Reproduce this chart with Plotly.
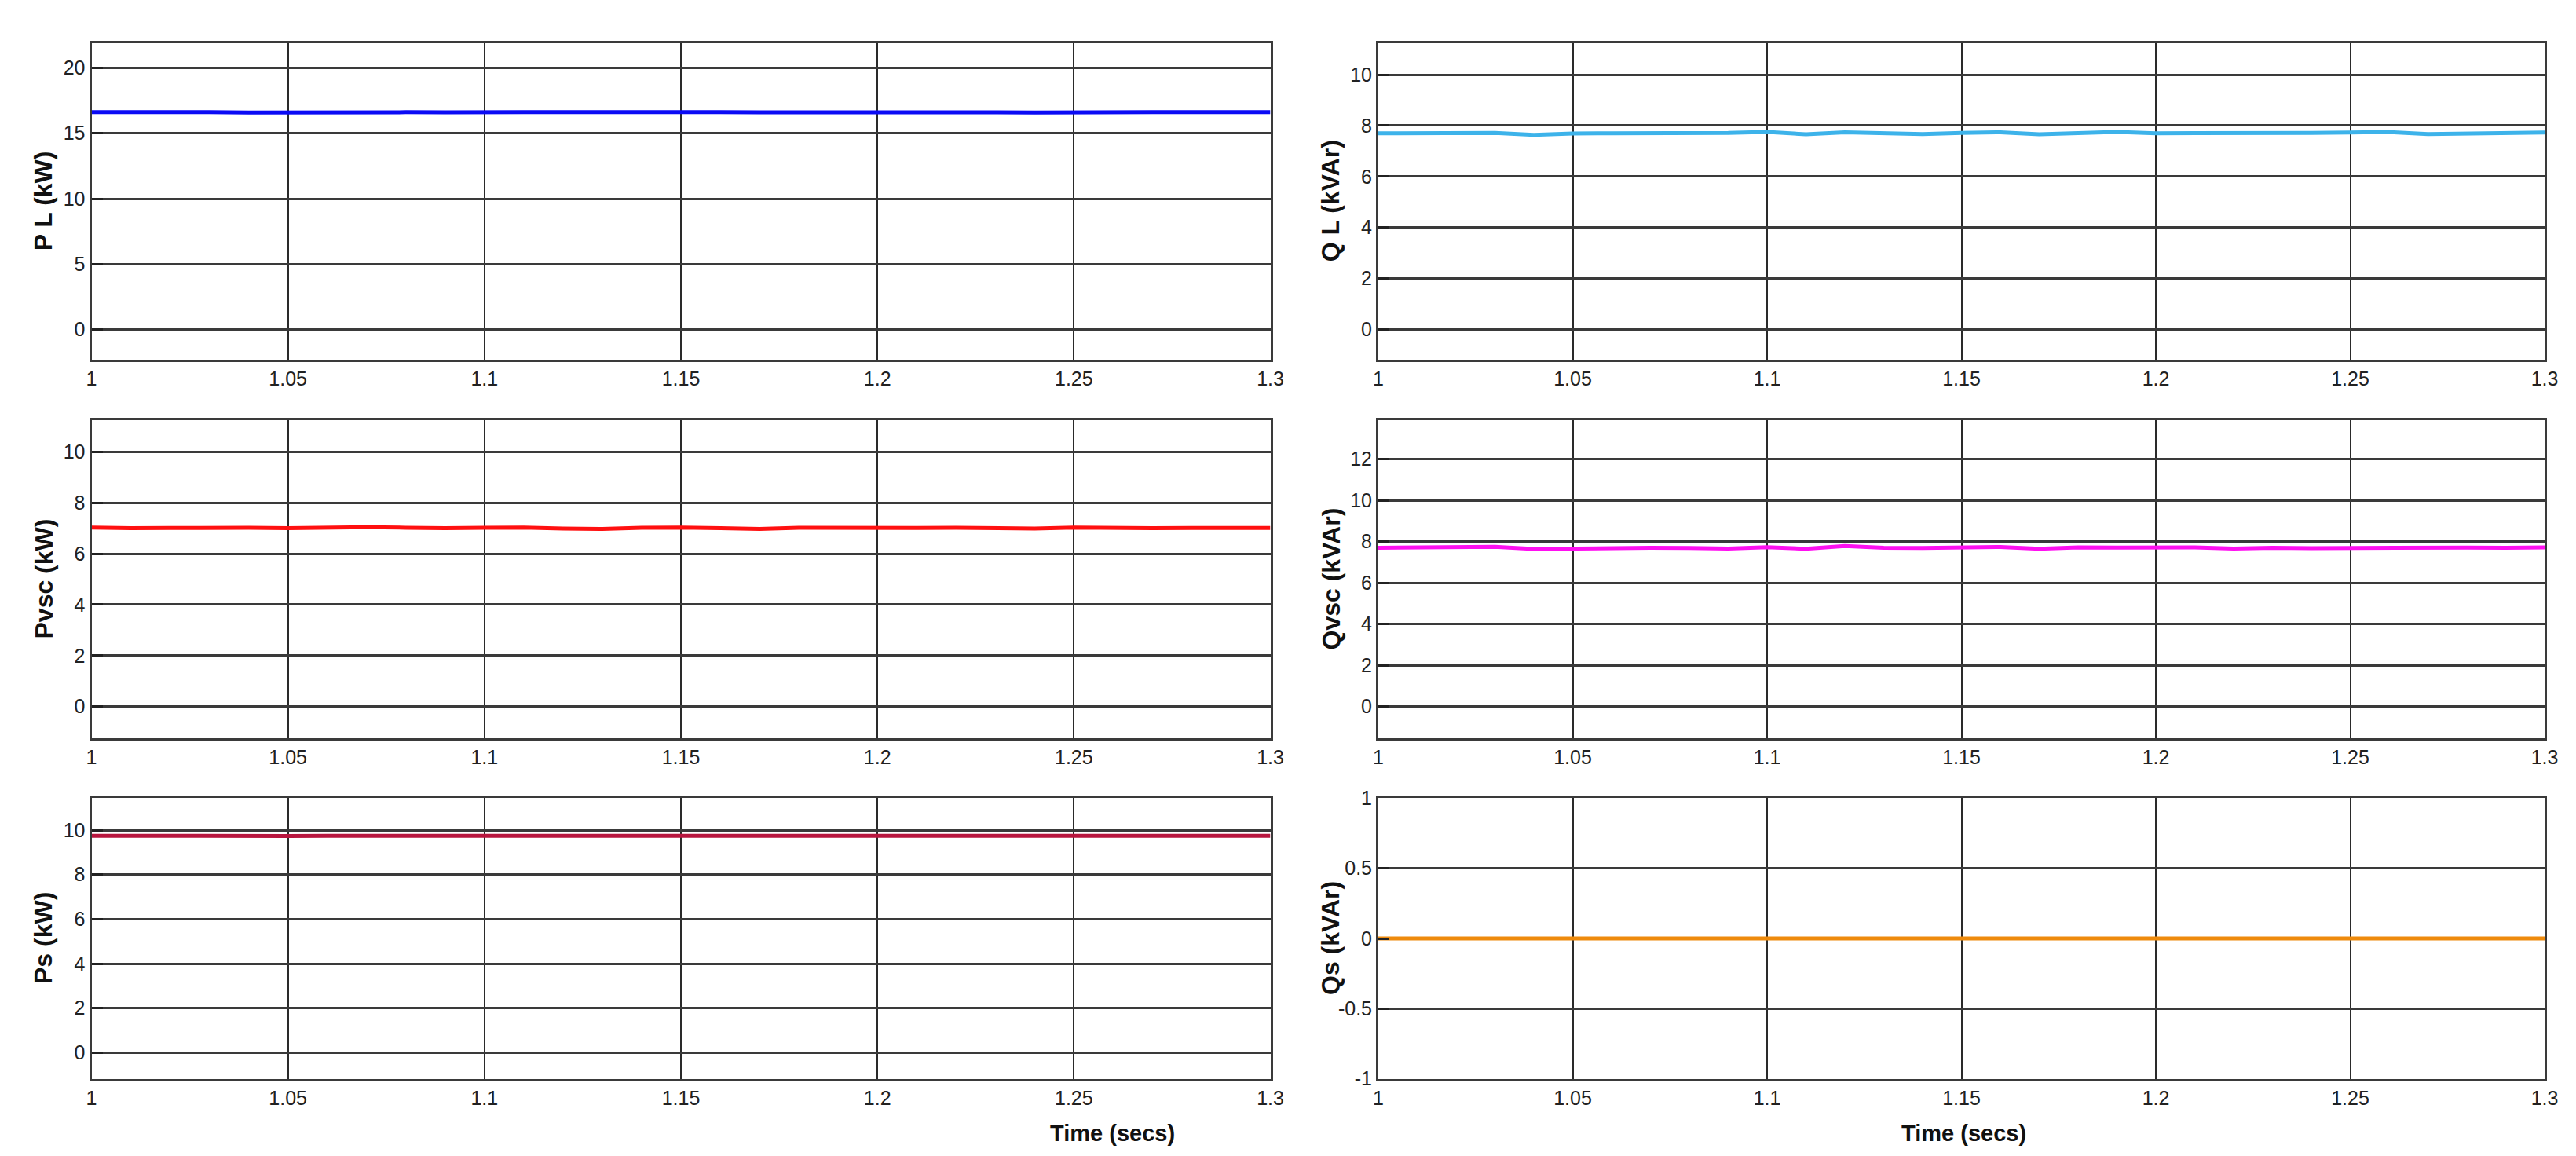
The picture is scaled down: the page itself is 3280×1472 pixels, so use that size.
"""
Six-panel power flow plot: load, VSC and source active/reactive power.
"""

import plotly.graph_objects as go
from plotly.subplots import make_subplots

# time axis (secs)
time_s = [1.00, 1.01, 1.02, 1.03, 1.04, 1.05, 1.06, 1.07, 1.08, 1.09, 1.10,
          1.11, 1.12, 1.13, 1.14, 1.15, 1.16, 1.17, 1.18, 1.19, 1.20,
          1.21, 1.22, 1.23, 1.24, 1.25, 1.26, 1.27, 1.28, 1.29, 1.30]
x_ticks = [1.0, 1.05, 1.1, 1.15, 1.2, 1.25, 1.3]
x_labels = ["1", "1.05", "1.1", "1.15", "1.2", "1.25", "1.3"]

# load active power P L (kW)
p_load = [16.62, 16.63, 16.61, 16.62, 16.58, 16.60, 16.62, 16.63, 16.61, 16.60, 16.64,
          16.62, 16.61, 16.63, 16.62, 16.64, 16.62, 16.60, 16.61, 16.63, 16.62,
          16.64, 16.61, 16.60, 16.59, 16.62, 16.63, 16.61, 16.62, 16.63, 16.62]
# load reactive power Q L (kVAr)
q_load = [7.70, 7.71, 7.72, 7.71, 7.64, 7.69, 7.70, 7.70, 7.69, 7.71, 7.75,
          7.66, 7.74, 7.70, 7.67, 7.71, 7.74, 7.66, 7.71, 7.75, 7.70,
          7.70, 7.69, 7.70, 7.71, 7.73, 7.75, 7.67, 7.70, 7.72, 7.73]
# VSC active power (kW)
p_vsc = [7.03, 7.00, 7.01, 7.03, 7.02, 7.00, 7.03, 7.04, 7.02, 7.00, 7.02,
         7.03, 6.99, 6.97, 7.02, 7.03, 7.00, 6.97, 7.02, 7.01, 7.00,
         7.01, 7.02, 7.00, 6.99, 7.03, 7.01, 7.00, 7.01, 7.02, 7.01]
# VSC reactive power (kVAr)
q_vsc = [7.70, 7.72, 7.73, 7.75, 7.64, 7.66, 7.70, 7.70, 7.69, 7.66, 7.73,
         7.65, 7.78, 7.70, 7.69, 7.71, 7.74, 7.65, 7.72, 7.71, 7.70,
         7.72, 7.66, 7.70, 7.68, 7.69, 7.73, 7.72, 7.71, 7.70, 7.72]
# source active power (kW)
p_src = [9.75, 9.74, 9.75, 9.76, 9.75, 9.74, 9.75, 9.75, 9.76, 9.75, 9.74,
         9.75, 9.75, 9.74, 9.75, 9.76, 9.75, 9.75, 9.74, 9.75, 9.75,
         9.76, 9.75, 9.74, 9.75, 9.75, 9.75, 9.76, 9.75, 9.74, 9.75]
# source reactive power (kVAr)
q_src = [0.0] * 31

panels = [
    # (row, col, values, colour, y title, y range, y ticks, y tick labels)
    (1, 1, p_load, "#0A0AF5", "P L (kW)", [-2.3, 21.9], [0, 5, 10, 15, 20], None),
    (1, 2, q_load, "#3DB3EA", "Q L (kVAr)", [-1.2, 11.25], [0, 2, 4, 6, 8, 10], None),
    (2, 1, p_vsc, "#FF1010", "Pvsc (kW)", [-1.25, 11.25], [0, 2, 4, 6, 8, 10], None),
    (2, 2, q_vsc, "#FF10F0", "Qvsc (kVAr)", [-1.55, 13.9], [0, 2, 4, 6, 8, 10, 12], None),
    (3, 1, p_src, "#B8163E", "Ps (kW)", [-1.18, 11.44], [0, 2, 4, 6, 8, 10], None),
    (3, 2, q_src, "#EE8A0C", "Qs (kVAr)", [-1, 1], [-1, -0.5, 0, 0.5, 1],
     ["-1", "-0.5", "0", "0.5", "1"]),
]

W, H = 3280, 1472
col_dom = {1: [108.5 / W, 1609.5 / W], 2: [1747 / W, 3232 / W]}
row_px = {1: (46.7, 450), 2: (526.7, 932.3), 3: (1008.3, 1365.7)}
row_dom = {r: [1 - b / H, 1 - t / H] for r, (t, b) in row_px.items()}
ytitle_x = {1: 47 / W, 2: 1686 / W}

tick_font = dict(family="Liberation Sans Narrow, Liberation Sans, Arial", size=25, color="#222222")
title_font = dict(family="Liberation Sans, Arial", size=32, color="#111111")
xtitle_font = dict(family="Liberation Sans, Arial", size=29, color="#111111")

fig = make_subplots(rows=3, cols=2)
annotations = []

for row, col, vals, colour, ytitle, yrange, yticks, ylabels in panels:
    fig.add_trace(go.Scatter(
        x=time_s, y=vals, mode="lines",
        line=dict(color=colour, width=5),
        showlegend=False,
    ), row=row, col=col)

    fig.update_xaxes(
        domain=col_dom[col], range=[1.0, 1.3], automargin=False,
        tickvals=x_ticks, ticktext=x_labels, tickfont=tick_font,
        showgrid=True, gridcolor="#2a2a2a", gridwidth=2,
        showline=True, linecolor="#3a3a3a", linewidth=3, mirror=True,
        ticks="", zeroline=False,
        row=row, col=col,
    )
    fig.update_yaxes(
        domain=row_dom[row], range=yrange, automargin=False,
        tickvals=yticks, ticktext=ylabels if ylabels else [str(v) for v in yticks],
        tickfont=tick_font,
        showgrid=True, gridcolor="#3a3a3a", gridwidth=2.5,
        showline=True, linecolor="#3a3a3a", linewidth=3, mirror=True,
        ticks="inside", ticklen=14, tickwidth=3, tickcolor="#222222",
        zeroline=False,
        row=row, col=col,
    )

    mid_y = sum(row_dom[row]) / 2
    annotations.append(dict(
        text="<b>%s</b>" % ytitle, textangle=-90,
        x=ytitle_x[col], y=mid_y, xref="paper", yref="paper",
        xanchor="center", yanchor="middle", showarrow=False,
        font=title_font,
    ))

# x axis titles under the bottom row
for xc in [1408 / W, 2492 / W]:
    annotations.append(dict(
        text="<b>Time (secs)</b>",
        x=xc, y=1 - 1435 / H, xref="paper", yref="paper",
        xanchor="center", yanchor="middle", showarrow=False,
        font=xtitle_font,
    ))

fig.update_layout(
    width=W, height=H,
    margin=dict(l=0, r=0, t=0, b=0),
    paper_bgcolor="white", plot_bgcolor="white",
    annotations=annotations,
)

fig.write_html("out.html")
